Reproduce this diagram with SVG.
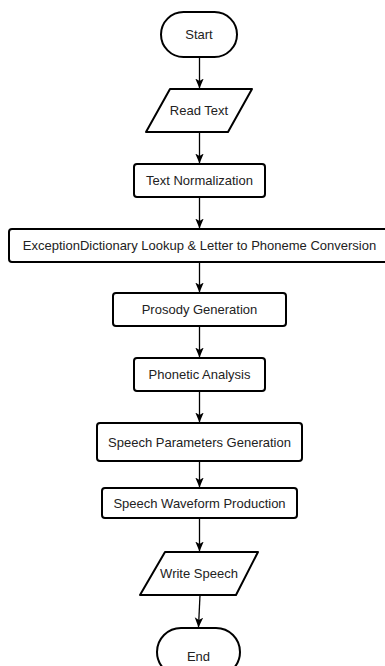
<svg xmlns="http://www.w3.org/2000/svg" width="385" height="666" viewBox="0 0 385 666">
<style>
.shape{fill:#fff;stroke:#000;stroke-width:2;stroke-linejoin:round}
.lbl{font-family:"Liberation Sans",Arial,sans-serif;font-size:13px;fill:#222;text-anchor:middle}
.conn{fill:none;stroke:#000;stroke-width:1.3}
</style>
<defs>
<marker id="arr" markerWidth="10" markerHeight="10" viewBox="0 0 10 10" refX="9.5" refY="5" orient="auto" markerUnits="userSpaceOnUse">
<path d="M0,0.8 L10,5 L0,9.2 L2.5,5 Z" fill="#000"/>
</marker>
</defs>
<rect width="385" height="666" fill="#fff"/>
<g id="connectors">
<line class="conn" x1="199.5" y1="57" x2="199.5" y2="88" marker-end="url(#arr)"/>
<line class="conn" x1="199.5" y1="132" x2="199.5" y2="163" marker-end="url(#arr)"/>
<line class="conn" x1="199.5" y1="197" x2="199.5" y2="228" marker-end="url(#arr)"/>
<line class="conn" x1="199.5" y1="262" x2="199.5" y2="292" marker-end="url(#arr)"/>
<line class="conn" x1="199.5" y1="326" x2="199.5" y2="357" marker-end="url(#arr)"/>
<line class="conn" x1="199.5" y1="391" x2="199.5" y2="422" marker-end="url(#arr)"/>
<line class="conn" x1="199.5" y1="461" x2="199.5" y2="487" marker-end="url(#arr)"/>
<line class="conn" x1="199.5" y1="518" x2="199.5" y2="551" marker-end="url(#arr)"/>
<line class="conn" x1="200" y1="595" x2="198.5" y2="627" marker-end="url(#arr)"/>
</g>
<g id="start">
<rect class="shape" x="161" y="12" width="76" height="45" rx="22.5"/>
<text class="lbl" x="199" y="39">Start</text>
</g>
<g id="read-text">
<path class="shape" d="M170,89 L252,89 L228,132 L146,132 Z"/>
<text class="lbl" x="199" y="115">Read Text</text>
</g>
<g id="text-normalization">
<rect class="shape" x="134" y="164" width="131" height="33" rx="3"/>
<text class="lbl" x="199.5" y="185">Text Normalization</text>
</g>
<g id="exception-dictionary">
<rect class="shape" x="9" y="229" width="381" height="33" rx="3"/>
<text class="lbl" x="199.5" y="250">ExceptionDictionary Lookup &amp; Letter to Phoneme Conversion</text>
</g>
<g id="prosody">
<rect class="shape" x="113" y="293" width="173" height="33" rx="3"/>
<text class="lbl" x="199.5" y="314">Prosody Generation</text>
</g>
<g id="phonetic">
<rect class="shape" x="134" y="358" width="131" height="33" rx="3"/>
<text class="lbl" x="199.5" y="379">Phonetic Analysis</text>
</g>
<g id="speech-parameters">
<rect class="shape" x="97" y="423" width="205" height="38" rx="3"/>
<text class="lbl" x="199.5" y="446.5">Speech Parameters Generation</text>
</g>
<g id="speech-waveform">
<rect class="shape" x="102" y="488" width="195" height="30" rx="3"/>
<text class="lbl" x="199.5" y="507.5">Speech Waveform Production</text>
</g>
<g id="write-speech">
<path class="shape" d="M165,552 L258,552 L236,595 L140,595 Z"/>
<text class="lbl" x="199" y="578">Write Speech</text>
</g>
<g id="end">
<rect class="shape" x="157" y="628" width="83" height="48" rx="24"/>
<text class="lbl" x="198.5" y="661">End</text>
</g>
</svg>
